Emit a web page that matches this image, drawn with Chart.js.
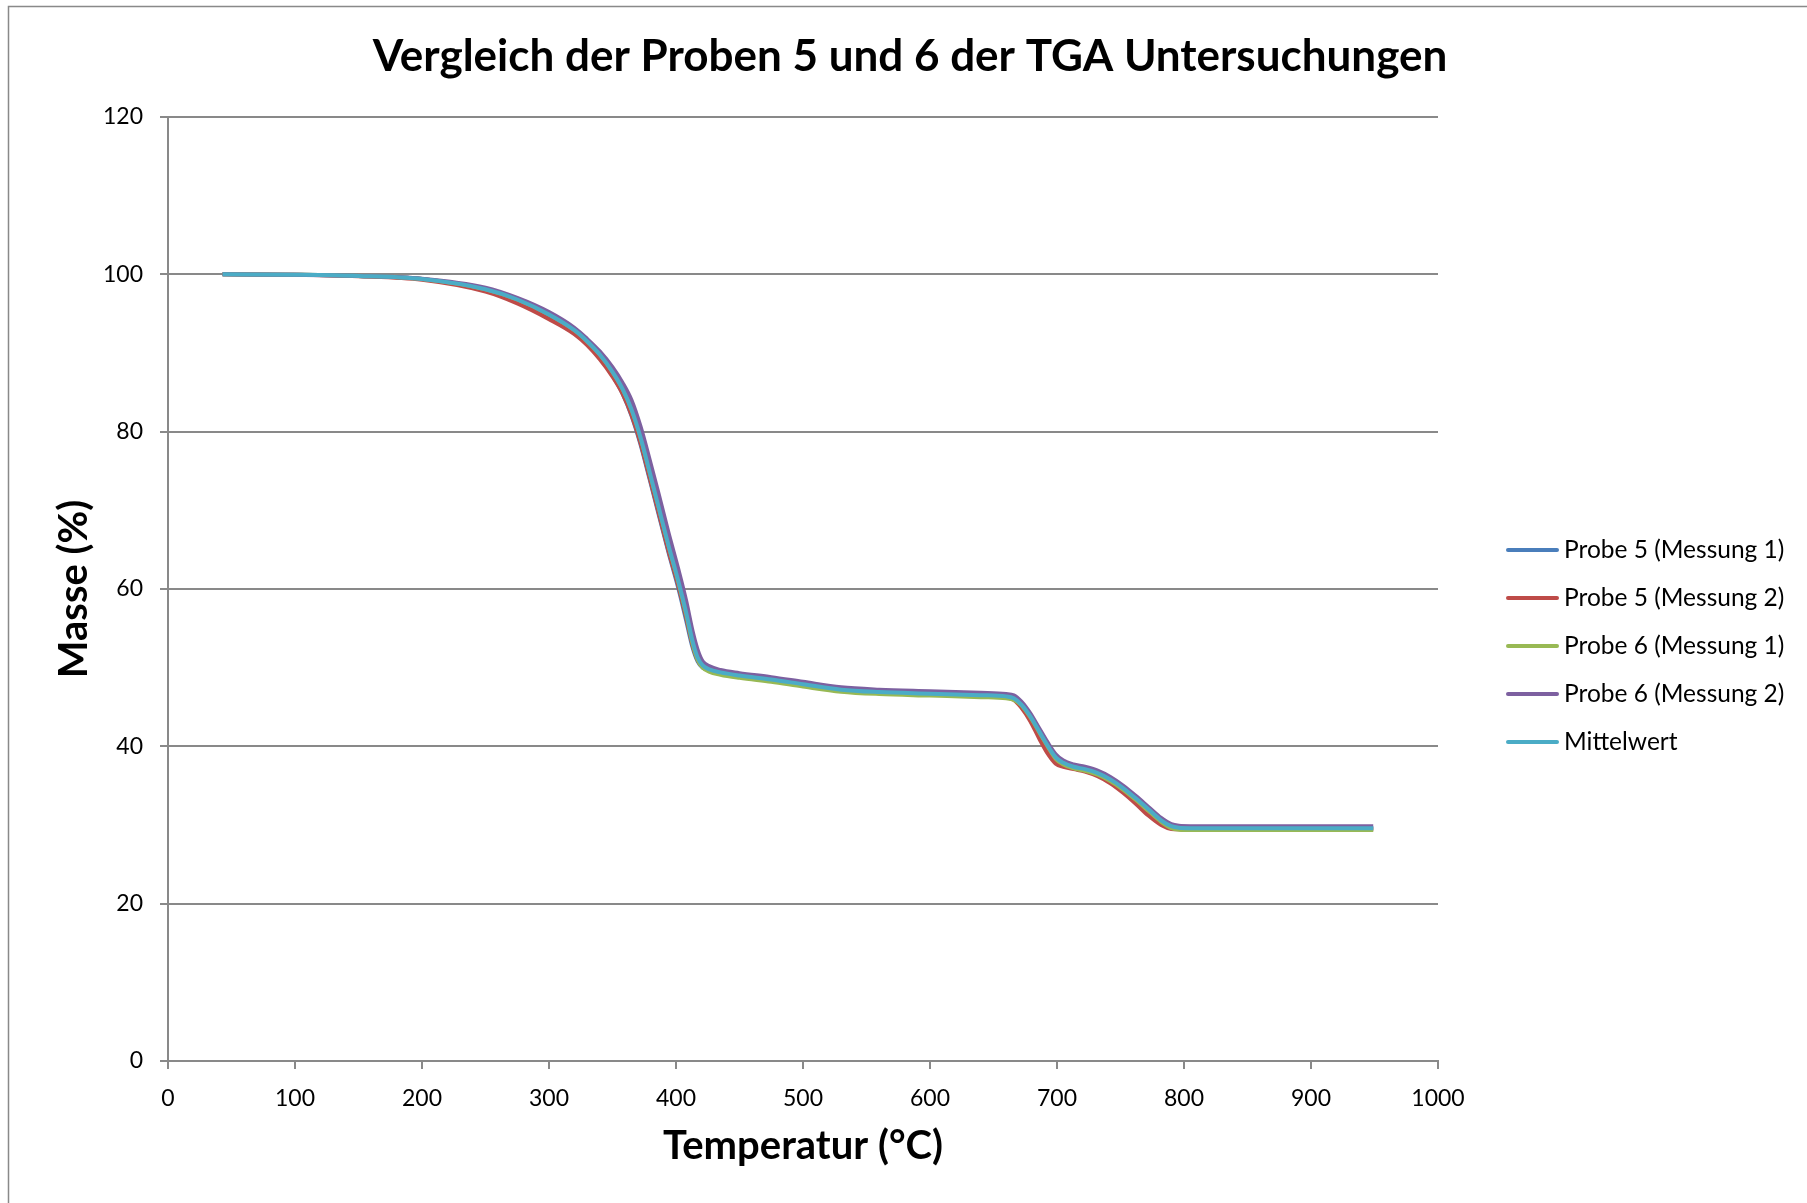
<!DOCTYPE html>
<html lang="de">
<head>
<meta charset="utf-8">
<title>TGA Proben 5 und 6</title>
<script src="https://cdn.jsdelivr.net/npm/chart.js@4/dist/chart.umd.min.js"></script>
<style>
  html, body { margin: 0; padding: 0; background: #ffffff; }
  #tga-chart { display: block; }
</style>
</head>
<body>
<canvas id="tga-chart" width="1807" height="1203"></canvas>
<script>
// Temperatur in °C (gemeinsame Stützstellen aller Messungen)
var temperaturen = [43, 100, 150, 200, 250, 275, 300, 320,
  330, 340, 350, 358, 365, 372, 379, 386, 394, 402, 408, 413, 417, 421, 426,
  435, 450, 475, 500, 530, 560, 600, 640, 660, 666, 672, 679, 686, 693, 699, 705, 713, 722, 732,
  742, 752, 762, 772, 782, 790, 796, 805, 850, 900, 949];

// Restmasse in %
var probe5Messung1 = [100, 99.95, 99.8, 99.4, 98.0, 96.6, 94.6, 92.5,
  91.2, 89.4, 87.1, 84.8, 82.0, 78.4, 74.1, 69.7, 64.7, 60.0, 56.0, 52.6, 50.8, 50.0, 49.7,
  49.35, 48.95, 48.45, 47.85, 47.15, 46.85, 46.65, 46.45, 46.3, 46.0, 45.1, 43.6, 41.7, 39.8, 38.5, 37.8, 37.35, 37.05, 36.55,
  35.7, 34.6, 33.3, 31.9, 30.5, 29.8, 29.6, 29.6, 29.6, 29.6, 29.6];
var probe5Messung2 = [100, 99.95, 99.75, 99.3, 97.8, 96.3, 94.3, 92.4,
  91.0, 89.2, 87.0, 84.8, 82.1, 78.6, 74.3, 69.9, 64.9, 60.3, 56.4, 52.9, 51.0, 50.1, 49.7,
  49.3, 48.9, 48.4, 47.8, 47.1, 46.8, 46.6, 46.4, 46.25, 45.9, 44.9, 43.2, 41.0, 39.0, 37.8, 37.4, 37.1, 36.8, 36.2,
  35.3, 34.1, 32.7, 31.2, 30.0, 29.5, 29.45, 29.45, 29.45, 29.45, 29.45];
var probe6Messung1 = [100, 99.95, 99.8, 99.4, 98.1, 96.8, 94.9, 92.9,
  91.5, 89.8, 87.6, 85.4, 82.8, 79.3, 75.0, 70.6, 65.6, 60.8, 56.8, 53.1, 51.0, 50.0, 49.5,
  49.1, 48.7, 48.2, 47.6, 46.95, 46.65, 46.45, 46.25, 46.1, 45.9, 45.2, 43.7, 41.8, 39.9, 38.4, 37.7, 37.2, 36.9, 36.4,
  35.6, 34.5, 33.2, 31.8, 30.4, 29.6, 29.4, 29.35, 29.35, 29.35, 29.35];
var probe6Messung2 = [100, 99.95, 99.8, 99.45, 98.3, 97.0, 95.2, 93.2,
  91.8, 90.2, 88.2, 86.2, 84.0, 80.7, 76.6, 72.3, 67.2, 62.4, 58.5, 54.7, 52.3, 50.8, 50.2,
  49.7, 49.3, 48.8, 48.2, 47.5, 47.2, 47.0, 46.8, 46.65, 46.5, 45.7, 44.2, 42.3, 40.4, 39.0, 38.2, 37.7, 37.4, 36.9,
  36.1, 35.0, 33.7, 32.3, 30.9, 30.1, 29.9, 29.85, 29.85, 29.85, 29.85];
var mittelwert = [100, 99.95, 99.8, 99.4, 98.1, 96.8, 94.9, 92.9,
  91.5, 89.8, 87.6, 85.4, 82.8, 79.3, 75.0, 70.6, 65.6, 60.9, 57.0, 53.4, 51.3, 50.3, 49.8,
  49.4, 49.0, 48.5, 47.9, 47.2, 46.9, 46.7, 46.5, 46.35, 46.1, 45.3, 43.8, 41.9, 40.0, 38.6, 37.9, 37.4, 37.1, 36.6,
  35.8, 34.7, 33.4, 32.0, 30.6, 29.85, 29.65, 29.6, 29.6, 29.6, 29.6];

var serienNamen = ['Probe 5 (Messung 1)', 'Probe 5 (Messung 2)', 'Probe 6 (Messung 1)', 'Probe 6 (Messung 2)', 'Mittelwert'];
var serienWerte = [probe5Messung1, probe5Messung2, probe6Messung1, probe6Messung2, mittelwert];
var serienFarben = ['#4a7ebb', '#be4b48', '#98b954', '#7d60a0', '#4bacc6'];

var diagrammTitel = 'Vergleich der Proben 5 und 6 der TGA Untersuchungen';
var xTitel = 'Temperatur (°C)';
var yTitel = 'Masse (%)';

(function () {
  'use strict';

  var schrift = 'Lato';
  var grau = '#898989';

  function punkte(werte) {
    return temperaturen.map(function (t, i) {
      return { x: t, y: werte[i] };
    });
  }

  // spätere Serien liegen oben, der Mittelwert zuletzt
  var datasets = serienNamen.map(function (name, i) {
    return {
      label: name,
      data: punkte(serienWerte[i]),
      order: serienNamen.length - 1 - i,
      borderColor: serienFarben[i],
      backgroundColor: serienFarben[i],
      borderWidth: 4,
      pointRadius: 0,
      fill: false,
      cubicInterpolationMode: 'monotone'
    };
  });

  // Rahmen, Titel und Legende im Excel-Stil
  var excelStil = {
    id: 'excelStil',
    beforeDraw: function (chart) {
      var ctx = chart.ctx;
      ctx.save();
      ctx.fillStyle = '#ffffff';
      ctx.fillRect(0, 0, chart.width, chart.height);
      ctx.strokeStyle = grau;
      ctx.lineWidth = 1.5;
      ctx.strokeRect(8.5, 6.5, chart.width + 20, chart.height + 20);
      ctx.restore();
    },
    afterDraw: function (chart) {
      var ctx = chart.ctx;
      ctx.save();
      ctx.fillStyle = '#000000';
      ctx.textAlign = 'center';
      ctx.textBaseline = 'middle';
      ctx.font = 'bold 44px ' + schrift;
      ctx.fillText(diagrammTitel, 910, 57);

      ctx.font = '24.5px ' + schrift;
      ctx.textAlign = 'left';
      serienNamen.forEach(function (name, i) {
        var y = 550 + i * 48;
        ctx.strokeStyle = serienFarben[i];
        ctx.lineWidth = 4;
        ctx.lineCap = 'round';
        ctx.beginPath();
        ctx.moveTo(1508, y);
        ctx.lineTo(1557, y);
        ctx.stroke();
        ctx.fillText(name, 1564, y);
      });
      ctx.restore();
    }
  };

  var canvas = document.getElementById('tga-chart');
  var chart = new Chart(canvas.getContext('2d'), {
    type: 'line',
    data: { datasets: datasets },
    options: {
      responsive: false,
      animation: false,
      layout: {
        padding: { left: 50, top: 117, right: 369, bottom: 20 }
      },
      plugins: {
        legend: { display: false },
        title: { display: false },
        tooltip: { enabled: false }
      },
      scales: {
        x: {
          type: 'linear',
          min: 0,
          max: 1000,
          afterFit: function (scale) { scale.height = 122; },
          ticks: {
            stepSize: 100,
            padding: 16,
            color: '#000000',
            font: { family: schrift, size: 23 },
            callback: function (v) { return String(v); }
          },
          grid: {
            drawOnChartArea: false,
            drawTicks: true,
            tickLength: 8,
            color: grau,
            lineWidth: 2
          },
          border: { display: true, color: grau, width: 2 },
          title: {
            display: true,
            text: xTitel,
            color: '#000000',
            padding: { top: 0, bottom: 13 },
            font: { family: schrift, size: 40, weight: 'bold' }
          }
        },
        y: {
          min: 0,
          max: 120,
          afterFit: function (scale) { scale.width = 118; },
          ticks: {
            stepSize: 20,
            padding: 17,
            color: '#000000',
            font: { family: schrift, size: 23 },
            callback: function (v) { return String(v); }
          },
          grid: {
            drawTicks: true,
            tickLength: 8,
            color: grau,
            lineWidth: 2
          },
          border: { display: true, color: grau, width: 2 },
          title: {
            display: true,
            text: yTitel,
            color: '#000000',
            padding: { top: 0, bottom: 0 },
            font: { family: schrift, size: 40, weight: 'bold' }
          }
        }
      }
    },
    plugins: [excelStil]
  });
})();
</script>
</body>
</html>
